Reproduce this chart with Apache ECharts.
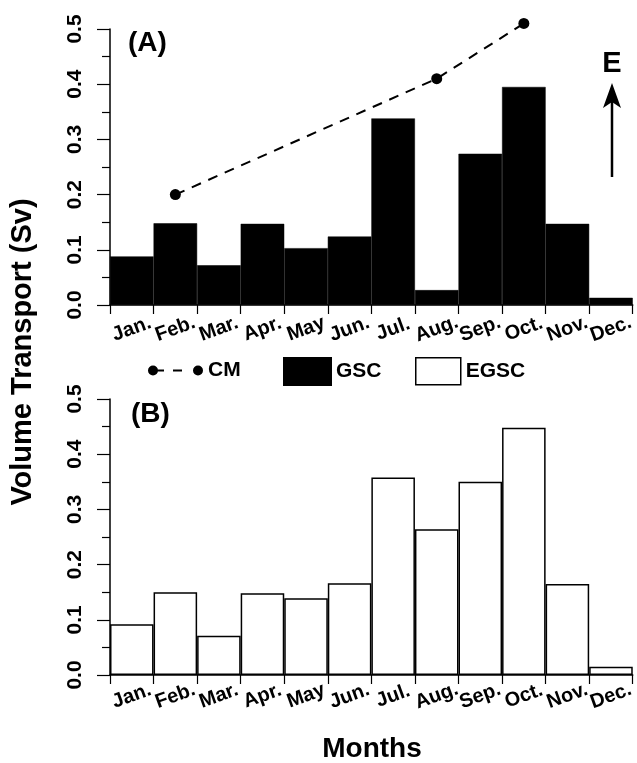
<!DOCTYPE html>
<html>
<head>
<meta charset="utf-8">
<script src="https://cdn.jsdelivr.net/npm/echarts@6/dist/echarts.min.js"></script>
<style>html,body{margin:0;padding:0;background:#fff;}#c{width:637px;height:763px;}</style>
</head>
<body>
<div id="c"></div>
<script>
const months = ['Jan.','Feb.','Mar.','Apr.','May','Jun.','Jul.','Aug.','Sep.','Oct.','Nov.','Dec.'];
const gscValues = [0.088, 0.148, 0.072, 0.147, 0.103, 0.124, 0.338, 0.027, 0.274, 0.395, 0.147, 0.013];
const cmValues = [null, 0.20, null, null, null, null, null, 0.41, null, 0.51, null, null];
const egscValues = [0.092, 0.150, 0.071, 0.148, 0.139, 0.166, 0.358, 0.264, 0.350, 0.448, 0.165, 0.015];
const yTicks = {min: 0, max: 0.5, interval: 0.1};

const FONT = "'Liberation Sans', Arial, sans-serif";
const NARROW = "'Liberation Sans Narrow', 'Liberation Sans', Arial, sans-serif";

function xAxis(gridIndex, margin) {
  return {
    type: 'category', gridIndex: gridIndex, data: months, boundaryGap: true,
    axisLine: {lineStyle: {color: '#000', width: 1.5}},
    axisTick: {show: true, alignWithLabel: false, length: 9, lineStyle: {color: '#000', width: 1.2}},
    axisLabel: {interval: 0, rotate: 20, align: 'center', verticalAlign: 'middle', margin: margin,
      color: '#000', fontWeight: 'bold', fontSize: 20, fontFamily: FONT},
    splitLine: {show: false}
  };
}
function yAxis(gridIndex) {
  return {
    type: 'value', gridIndex: gridIndex, min: yTicks.min, max: yTicks.max, interval: yTicks.interval,
    axisLine: {show: true, lineStyle: {color: '#000', width: 1.5}},
    axisTick: {show: true, length: 13, lineStyle: {color: '#000', width: 1.2}},
    minorTick: {show: true, splitNumber: 2, length: 8, lineStyle: {color: '#000', width: 1.2}},
    axisLabel: {rotate: 90, margin: 24, color: '#000', fontWeight: 'bold', fontSize: 21, fontFamily: NARROW,
      formatter: function (v) { return v.toFixed(1); }},
    splitLine: {show: false}
  };
}

const cmIcon = 'path://M0 0 M55 27 M0 13.5 A5 5 0 1 1 10 13.5 A5 5 0 1 1 0 13.5 Z M45 13.5 A5 5 0 1 1 55 13.5 A5 5 0 1 1 45 13.5 Z M9 12.5 L16 12.5 L16 14.5 L9 14.5 Z M25 12.5 L34 12.5 L34 14.5 L25 14.5 Z';
const legendText = {color: '#000', fontWeight: 'bold', fontSize: 21, fontFamily: FONT};

const chart = echarts.init(document.getElementById('c'), null, {renderer: 'canvas'});
chart.setOption({
  backgroundColor: '#fff',
  animation: false,
  grid: [
    {left: 110, top: 29, width: 524, height: 276},
    {left: 110, top: 399, width: 524, height: 276}
  ],
  xAxis: [xAxis(0, 24), xAxis(1, 21)],
  yAxis: [yAxis(0), yAxis(1)],
  legend: [
    {left: 148, top: 357, padding: 0, itemWidth: 55, itemHeight: 27, selectedMode: false, textStyle: legendText,
      data: [{name: 'CM', icon: cmIcon, itemStyle: {color: '#000'}}]},
    {left: 283, top: 357, padding: 0, itemWidth: 47, itemHeight: 27, selectedMode: false, textStyle: legendText,
      data: [{name: 'GSC', icon: 'rect', itemStyle: {color: '#000'}}]},
    {left: 415, top: 357, padding: 0, itemWidth: 45, itemHeight: 27, selectedMode: false, textStyle: legendText,
      data: [{name: 'EGSC', icon: 'rect', itemStyle: {color: '#fff', borderColor: '#000', borderWidth: 1.5}}]}
  ],
  series: [
    {name: 'GSC', type: 'bar', xAxisIndex: 0, yAxisIndex: 0, data: gscValues,
      barWidth: '100%', barCategoryGap: '0%', itemStyle: {color: '#000', borderColor: '#000', borderWidth: 0.5}},
    {name: 'CM', type: 'line', xAxisIndex: 0, yAxisIndex: 0, data: cmValues, connectNulls: true, clip: false,
      symbol: 'circle', symbolSize: 11, z: 5,
      lineStyle: {color: '#000', width: 2, type: [10, 8]}, itemStyle: {color: '#000'}},
    {name: 'EGSC', type: 'bar', xAxisIndex: 1, yAxisIndex: 1, data: egscValues,
      barWidth: '100%', barCategoryGap: '0%', itemStyle: {color: '#fff', borderColor: '#000', borderWidth: 1.5}}
  ],
  graphic: [
    {type: 'text', left: 128, top: 29, style: {text: '(A)', fill: '#000', font: 'bold 28px ' + FONT}},
    {type: 'text', left: 131, top: 400, style: {text: '(B)', fill: '#000', font: 'bold 28px ' + FONT}},
    {type: 'text', x: 612, y: 64, style: {text: 'E', fill: '#000', font: 'bold 29px ' + FONT, align: 'center', verticalAlign: 'middle'}},
    {type: 'line', shape: {x1: 612, y1: 177, x2: 612, y2: 100}, style: {stroke: '#000', lineWidth: 2.5}},
    {type: 'polygon', shape: {points: [[612, 83], [603, 108], [612, 102], [621, 108]]}, style: {fill: '#000'}},
    {type: 'text', x: 23, y: 352, rotation: Math.PI / 2,
      style: {text: 'Volume Transport (Sv)', fill: '#000', font: 'bold 29px ' + FONT, align: 'center', verticalAlign: 'middle'}},
    {type: 'text', x: 372, y: 749,
      style: {text: 'Months', fill: '#000', font: 'bold 28px ' + FONT, align: 'center', verticalAlign: 'middle'}}
  ]
});
</script>
</body>
</html>
